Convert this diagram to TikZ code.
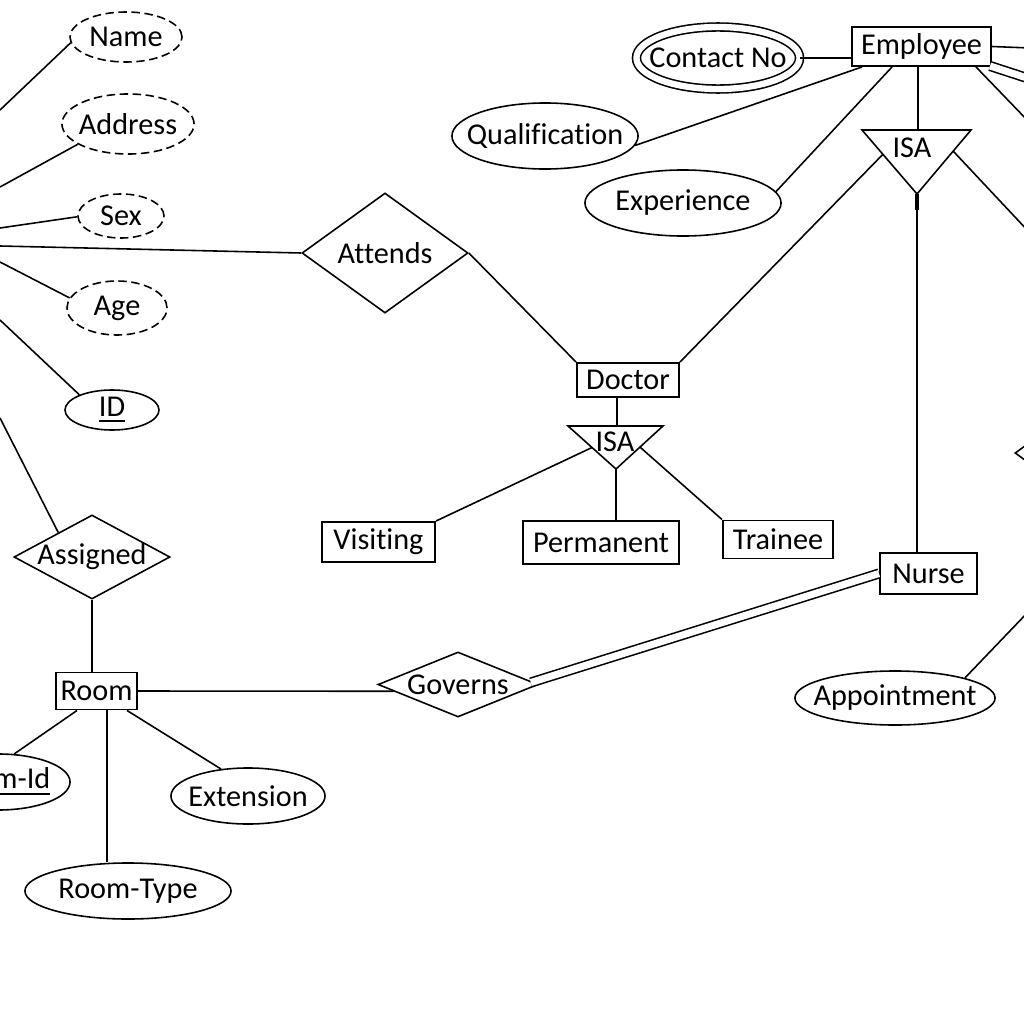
\documentclass[tikz,border=0pt]{standalone}
\usepackage{fontspec}
\setmainfont{Carlito}[Ligatures={NoCommon}]
\usetikzlibrary{shapes.geometric,calc}
\newcommand{\zw}[1]{\makebox[0pt]{#1}}
\tikzset{
  every node/.style={font=\fontsize{8.6pt}{10pt}\selectfont},
  ent/.style={draw, rectangle, inner sep=0pt, line width=0.55pt},
  attr/.style={draw, ellipse, inner sep=0pt, line width=0.45pt},
  dattr/.style={attr, dash pattern=on 2.4pt off 1.3pt},
  mattr/.style={attr, double, double distance=1.8pt, line width=0.45pt},
  rel/.style={draw, diamond, inner sep=0pt, line width=0.45pt},
  isatri/.style={line width=0.45pt, line join=miter},
  conn/.style={line width=0.45pt},
  dconn/.style={draw, double, double distance=2pt, line width=0.45pt},
  lbl/.style={inner sep=0pt},
}
\begin{document}
\begin{tikzpicture}[x=0.01cm,y=-0.01cm]
\useasboundingbox (0,0) rectangle (1024,1024);
\clip (0,0) rectangle (1024,1024);

% ---------- entities ----------
\node[ent, minimum width=1.39cm, minimum height=0.39cm] (employee) at (921.5,46.5) {\zw{Employee}};
\node[ent, minimum width=1.02cm, minimum height=0.34cm] (doctor) at (628,380) {\zw{Doctor}};
\node[ent, minimum width=0.97cm, minimum height=0.41cm] (nurse) at (928.5,573.5) {\zw{Nurse}};
\node[ent, minimum width=1.13cm, minimum height=0.40cm] (visiting) at (378.5,542) {\zw{Visiting}};
\node[ent, minimum width=1.56cm, minimum height=0.43cm] (permanent) at (601,542.5) {\zw{Permanent}};
\node[ent, minimum width=1.10cm, minimum height=0.38cm] (trainee) at (778,539.5) {\zw{Trainee}};
\node[ent, minimum width=0.81cm, minimum height=0.37cm] (room) at (96.5,691) {\zw{Room}};

% ---------- relationships ----------
\node[rel, minimum width=1.66cm, minimum height=1.20cm] (attends) at (385,253) {\zw{Attends}};
\node[rel, minimum width=1.56cm, minimum height=0.84cm] (assigned) at (92,557) {\zw{Assigned}};
\node[rel, minimum width=1.60cm, minimum height=0.65cm] (governs) at (458,684.5) {\zw{Governs}};
\node[rel, minimum width=1.64cm, minimum height=1.20cm] (rdia) at (1097,453) {};

% ---------- attributes ----------
\node[dattr, minimum width=1.12cm, minimum height=0.50cm] (name) at (126,37) {\zw{Name}};
\node[dattr, minimum width=1.32cm, minimum height=0.60cm] (address) at (128,124) {\zw{Address}};
\node[dattr, minimum width=0.86cm, minimum height=0.44cm] (sex) at (121,216) {\zw{Sex}};
\node[dattr, minimum width=1.00cm, minimum height=0.54cm] (age) at (117,308) {\zw{Age}};
\node[attr, minimum width=0.94cm, minimum height=0.40cm] (id) at (112,410) {\zw{\underline{ID}}};
\node[mattr, minimum width=1.63cm, minimum height=0.62cm] (contact) at (718,58) {\zw{Contact No}};
\node[attr, minimum width=1.86cm, minimum height=0.66cm] (qualification) at (545,136) {\zw{Qualification}};
\node[attr, minimum width=1.96cm, minimum height=0.66cm] (experience) at (683,203) {\zw{Experience}};
\node[attr, minimum width=2.00cm, minimum height=0.54cm] (appointment) at (895,698) {\zw{Appointment}};
\node[attr, minimum width=1.44cm, minimum height=0.56cm] (roomid) at (-2,782) {\zw{\underline{Room-Id}}};
\node[attr, minimum width=2.06cm, minimum height=0.56cm] (roomtype) at (128,891) {\zw{Room-Type}};
\node[attr, minimum width=1.54cm, minimum height=0.56cm] (extension) at (248,796) {\zw{Extension}};

% ---------- ISA triangles ----------
\coordinate (isa1L) at (862,130);
\coordinate (isa1R) at (971,130);
\coordinate (isa1B) at (917,194);
\coordinate (isa1T) at (918,130);
\draw[isatri] (isa1L) -- (isa1R) -- (isa1B) -- cycle;
\node[lbl] (isa1) at (912,148) {ISA};

\coordinate (isa2L) at (568,426);
\coordinate (isa2R) at (663,426);
\coordinate (isa2B) at (616,469);
\coordinate (isa2T) at (617,426);
\draw[isatri] (isa2L) -- (isa2R) -- (isa2B) -- cycle;
\node[lbl] (isa2) at (615,442) {ISA};

% ---------- free ends at the picture's edges ----------
\coordinate (pName) at (0,110);
\coordinate (pAddress) at (0,187);
\coordinate (pSex) at (0,228);
\coordinate (pAttends) at (0,246);
\coordinate (pAge) at (0,262);
\coordinate (pID) at (0,320);
\coordinate (pAssigned) at (0,418);
\coordinate (eR1) at (1030,48);
\coordinate (eR2) at (1030,79);
\coordinate (eR3) at (1030,123);
\coordinate (isaR) at (1030,233);
\coordinate (apR) at (1030,610);

% ---------- connectors ----------
\draw[conn] (pName) -- (name.186);
\draw[conn] (pAddress) -- (address.202);
\draw[conn] (pSex) -- (sex.181);
\draw[conn] (pAttends) -- (attends.west);
\draw[conn] (pAge) -- (age.168);
\draw[conn] (pID) -- (id.155);
\draw[conn] (pAssigned) -- (assigned.144);

\draw[conn] (assigned.south) -- (assigned.south |- room.north);
\draw[conn] (room.east) -- (governs.186);
\draw[conn] ($(room.south west)+(22,0)$) -- (roomid.60);
\draw[conn] ($(room.south west)+(52,0)$) coordinate (rT) -- (rT |- roomtype.north);
\draw[conn] ($(room.south west)+(72,0)$) -- (extension.135);

\draw[dconn] ($(governs.east)+(-8,-2)$) -- (nurse.west);

\draw[conn] (attends.east) -- (doctor.north west);
\draw[conn] (isa2T |- doctor.south) -- (isa2T);
\draw[conn] ($(isa2L)!0.5!(isa2B)$) -- (visiting.north east);
\draw[conn] (isa2B) -- (isa2B |- permanent.north);
\draw[conn] ($(isa2R)!0.49!(isa2B)$) -- (trainee.north west);

\draw[conn] (contact.east) -- (contact.east -| employee.west);
\draw[conn] (qualification.354) -- ($(employee.south west)+(11,0)$);
\draw[conn] (experience.7) -- ($(employee.south west)+(41,0)$);
\draw[conn] (isa1T |- employee.south) -- (isa1T);
\draw[conn] ($(isa1L)!0.38!(isa1B)$) -- (doctor.north east);
\draw[conn] (isa1B) -- (isa1B |- nurse.north);
\draw[line width=1.2pt] (isa1B) -- ++(0,16);
\draw[conn] ($(isa1R)!0.33!(isa1B)$) -- (isaR);
\draw[conn] (employee.east) -- (eR1);
\draw[dconn] ($(employee.south east)+(-2,-1)$) -- (eR2);
\draw[conn] ($(employee.south east)+(-16,0)$) -- (eR3);

\draw[conn] (appointment.16) -- (apR);
\end{tikzpicture}
\end{document}
